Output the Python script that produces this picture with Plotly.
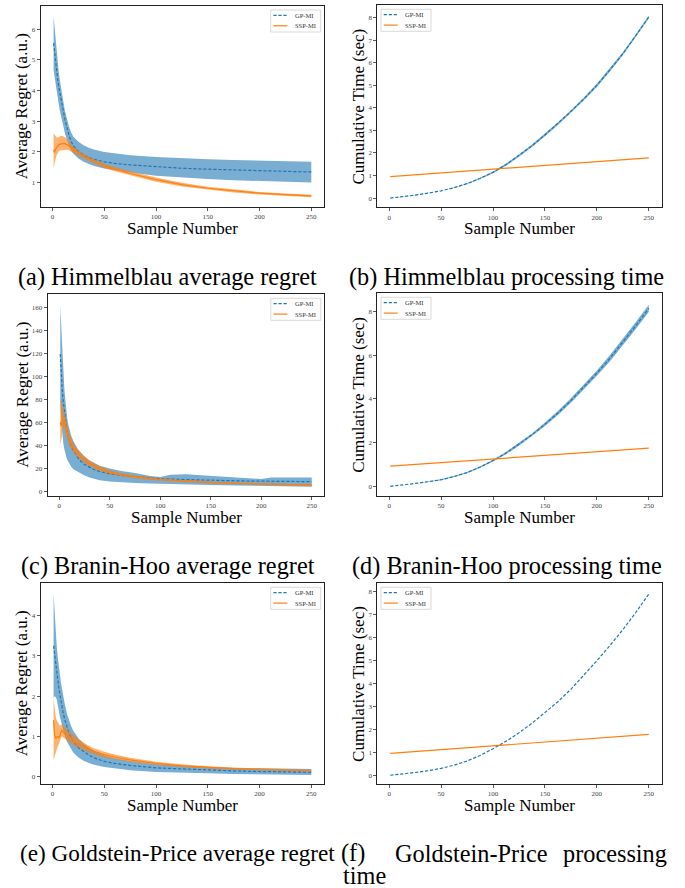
import plotly.graph_objects as go

W, H = 685, 888

# ---------------- data ----------------
SAMPLE_TICKS = [0, 50, 100, 150, 200, 250]

# (a) Himmelblau average regret
A_X = [1, 2, 3, 4, 5, 6, 7, 8, 9, 10, 12, 14, 16, 18, 20, 25, 30, 35, 40, 50, 60, 75, 100, 125, 150, 175, 200, 225, 250]
A_GP_MEAN = [5.54, 5.2, 4.9, 4.62, 4.35, 4.12, 3.91, 3.7, 3.55, 3.42, 3.05, 2.76, 2.53, 2.35, 2.2, 2.02, 1.9, 1.82, 1.76, 1.68, 1.63, 1.58, 1.52, 1.47, 1.44, 1.41, 1.39, 1.37, 1.35]
A_GP_HI = [6.41, 6.0, 5.6, 5.25, 4.9, 4.6, 4.35, 4.1, 3.9, 3.72, 3.33, 3.04, 2.81, 2.63, 2.5, 2.33, 2.22, 2.14, 2.08, 2.0, 1.95, 1.89, 1.84, 1.79, 1.76, 1.74, 1.72, 1.70, 1.68]
A_GP_LO = [4.67, 4.4, 4.15, 3.95, 3.75, 3.55, 3.35, 3.18, 3.02, 2.88, 2.6, 2.38, 2.2, 2.05, 1.95, 1.79, 1.68, 1.6, 1.54, 1.46, 1.4, 1.33, 1.23, 1.17, 1.12, 1.08, 1.05, 1.03, 1.01]
A_SSP_MEAN = [2.07, 1.98, 2.1, 2.18, 2.2, 2.24, 2.25, 2.27, 2.28, 2.28, 2.27, 2.24, 2.2, 2.14, 2.08, 1.96, 1.86, 1.77, 1.7, 1.55, 1.44, 1.3, 1.1, 0.94, 0.82, 0.73, 0.66, 0.61, 0.57]
A_SSP_HI = [2.6, 2.55, 2.5, 2.47, 2.47, 2.5, 2.5, 2.52, 2.52, 2.52, 2.48, 2.42, 2.35, 2.26, 2.18, 2.04, 1.93, 1.84, 1.77, 1.62, 1.51, 1.37, 1.17, 1.0, 0.87, 0.78, 0.7, 0.65, 0.61]
A_SSP_LO = [1.47, 1.6, 1.78, 1.9, 1.97, 2.02, 2.05, 2.06, 2.06, 2.07, 2.07, 2.07, 2.05, 2.02, 1.98, 1.88, 1.79, 1.7, 1.63, 1.48, 1.37, 1.23, 1.03, 0.88, 0.77, 0.68, 0.62, 0.57, 0.53]

# (c) Branin-Hoo average regret
C_X = [1, 2, 3, 4, 5, 6, 7, 8, 9, 10, 12, 14, 16, 18, 20, 25, 30, 35, 40, 50, 60, 75, 90, 100, 110, 125, 150, 175, 195, 200, 210, 225, 250]
C_GP_MEAN = [119.5, 100, 88, 78, 70, 62, 56, 51, 47, 44, 39, 35.5, 32.5, 29.5, 27.5, 23.5, 21, 19, 17.5, 15.5, 14.3, 13, 11.8, 11.2, 10.9, 10.4, 9.8, 9.4, 9.15, 9.1, 9.0, 8.9, 8.7]
C_GP_HI = [161, 140, 120, 102, 90, 80, 70, 63, 58, 54, 48, 44, 40.5, 37.5, 35, 30.5, 27, 24.5, 22.5, 20, 18.2, 16.3, 13.6, 12.7, 14.6, 15.2, 14.0, 12.6, 11.4, 11.0, 12.3, 12.5, 12.4]
C_GP_LO = [80, 62, 50, 42, 37, 33, 30, 27.5, 25.5, 24, 21.5, 19.5, 18.2, 17.2, 16.5, 14, 12.2, 11, 10, 8.9, 8.2, 7.5, 7.0, 6.7, 6.4, 6.1, 5.8, 5.3, 5.0, 4.9, 4.7, 4.5, 4.3]
C_SSP_MEAN = [60, 57, 62, 65, 63, 58, 54, 50.5, 47.5, 45, 41, 38, 35.5, 33.5, 31.5, 27.5, 24.5, 22, 20, 17, 15, 12.8, 11.2, 10.4, 9.8, 9.0, 8.0, 7.2, 6.7, 6.6, 6.4, 6.1, 5.7]
C_SSP_HI = [80, 79, 76, 73, 70, 65, 61, 57, 53.5, 50.5, 46, 42.5, 39.5, 37, 35, 30.5, 27, 24.3, 22, 18.8, 16.5, 14.1, 12.4, 11.5, 10.8, 9.9, 8.8, 7.9, 7.4, 7.3, 7.1, 6.8, 6.4]
C_SSP_LO = [40, 44, 50, 56, 56, 51, 47.5, 44.5, 42, 40, 36.5, 34, 31.8, 30, 28.3, 24.8, 22, 19.8, 18, 15.3, 13.5, 11.5, 10.1, 9.4, 8.8, 8.1, 7.2, 6.5, 6.0, 5.9, 5.7, 5.4, 5.0]

# (e) Goldstein-Price average regret
E_X = [1, 2, 3, 4, 5, 6, 7, 8, 9, 10, 12, 14, 16, 18, 20, 25, 30, 35, 40, 50, 60, 75, 100, 125, 150, 175, 200, 225, 250]
E_GP_MEAN = [3.25, 3.0, 2.8, 2.62, 2.42, 2.22, 2.05, 1.9, 1.75, 1.62, 1.4, 1.22, 1.08, 0.97, 0.88, 0.72, 0.62, 0.54, 0.47, 0.38, 0.33, 0.28, 0.22, 0.19, 0.165, 0.145, 0.13, 0.12, 0.11]
E_GP_HI = [4.55, 4.0, 3.6, 3.25, 2.98, 2.74, 2.55, 2.36, 2.2, 2.05, 1.78, 1.56, 1.38, 1.25, 1.14, 0.95, 0.82, 0.72, 0.64, 0.53, 0.46, 0.39, 0.31, 0.27, 0.24, 0.22, 0.21, 0.2, 0.19]
E_GP_LO = [1.95, 2.0, 1.98, 1.92, 1.8, 1.65, 1.5, 1.4, 1.28, 1.18, 1.0, 0.87, 0.76, 0.68, 0.6, 0.48, 0.4, 0.34, 0.3, 0.24, 0.2, 0.16, 0.12, 0.1, 0.085, 0.07, 0.06, 0.05, 0.045]
E_SSP_MEAN = [1.4, 1.05, 0.96, 0.98, 1.0, 0.97, 1.0, 1.1, 1.15, 1.12, 1.06, 1.03, 0.98, 0.94, 0.9, 0.82, 0.75, 0.68, 0.63, 0.55, 0.49, 0.42, 0.33, 0.27, 0.23, 0.2, 0.18, 0.165, 0.15]
E_SSP_HI = [1.95, 1.65, 1.5, 1.4, 1.35, 1.3, 1.27, 1.28, 1.3, 1.28, 1.22, 1.18, 1.12, 1.07, 1.03, 0.93, 0.85, 0.77, 0.71, 0.62, 0.55, 0.47, 0.37, 0.31, 0.26, 0.23, 0.205, 0.185, 0.17]
E_SSP_LO = [0.4, 0.5, 0.6, 0.68, 0.75, 0.8, 0.86, 0.95, 1.0, 0.98, 0.93, 0.9, 0.86, 0.82, 0.79, 0.72, 0.66, 0.6, 0.56, 0.48, 0.43, 0.37, 0.29, 0.24, 0.2, 0.175, 0.16, 0.145, 0.13]

# processing time panels (b, d, f)
T_X = [1, 12.5, 25, 37.5, 50, 62.5, 75, 87.5, 100, 112.5, 125, 137.5, 150, 162.5, 175, 187.5, 200, 212.5, 225, 237.5, 250]
B_GP_MEAN = [0.0, 0.05, 0.13, 0.22, 0.32, 0.46, 0.64, 0.87, 1.14, 1.48, 1.88, 2.32, 2.8, 3.3, 3.84, 4.4, 5.0, 5.68, 6.4, 7.2, 8.03]
B_GP_HI = [0.0, 0.05, 0.13, 0.22, 0.32, 0.47, 0.66, 0.9, 1.18, 1.53, 1.93, 2.38, 2.86, 3.36, 3.9, 4.46, 5.07, 5.75, 6.47, 7.27, 8.1]
B_GP_LO = [0.0, 0.05, 0.13, 0.22, 0.32, 0.45, 0.62, 0.84, 1.1, 1.43, 1.83, 2.26, 2.74, 3.24, 3.78, 4.34, 4.93, 5.61, 6.33, 7.13, 7.96]
B_SSP_X = [1, 50, 100, 150, 200, 250]
B_SSP_MEAN = [0.95, 1.11, 1.28, 1.45, 1.61, 1.78]

D_GP_MEAN = [0.0, 0.05, 0.13, 0.21, 0.3, 0.45, 0.63, 0.88, 1.18, 1.52, 1.92, 2.36, 2.84, 3.36, 3.93, 4.54, 5.18, 5.86, 6.6, 7.36, 8.15]
D_GP_HI = [0.0, 0.05, 0.13, 0.22, 0.32, 0.47, 0.66, 0.91, 1.22, 1.57, 1.98, 2.42, 2.92, 3.45, 4.03, 4.65, 5.3, 6.0, 6.75, 7.52, 8.32]
D_GP_LO = [0.0, 0.05, 0.13, 0.2, 0.28, 0.43, 0.6, 0.85, 1.14, 1.47, 1.86, 2.3, 2.76, 3.27, 3.83, 4.43, 5.06, 5.72, 6.45, 7.2, 7.98]
D_SSP_X = [1, 50, 100, 150, 200, 250]
D_SSP_MEAN = [0.92, 1.09, 1.25, 1.42, 1.58, 1.75]

F_GP_MEAN = [0.0, 0.05, 0.12, 0.2, 0.3, 0.44, 0.62, 0.86, 1.15, 1.48, 1.85, 2.26, 2.72, 3.2, 3.74, 4.34, 4.98, 5.64, 6.33, 7.08, 7.88]
F_SSP_X = [1, 50, 100, 150, 200, 250]
F_SSP_MEAN = [0.95, 1.12, 1.28, 1.45, 1.61, 1.78]

CAPTIONS = ["(a) Himmelblau average regret", "(b) Himmelblau processing time",
            "(c) Branin-Hoo average regret", "(d) Branin-Hoo processing time",
            "(e) Goldstein-Price average regret"]
CAPTION_F = ["(f)", "Goldstein-Price", "processing", "time"]
LEGEND_NAMES = ["GP-MI", "SSP-MI"]
REGRET_TITLE = "Average Regret (a.u.)"
TIME_TITLE = "Cumulative Time (sec)"
X_TITLE = "Sample Number"

# ---------------- styling / layout ----------------
BLUE = "#1f77b4"
ORANGE = "#ff7f0e"
BLUE_FILL = "rgba(31,119,180,0.6)"
ORANGE_FILL = "rgba(255,127,14,0.6)"
SERIF = "Liberation Serif, Times New Roman, serif"
DASH = "3.2px,1.8px"

# pixel boxes (left, right, top, bottom)
BOXES = [
    (40.7, 324.2, 6.0, 207.0),
    (377.3, 661.7, 5.3, 207.3),
    (47.7, 324.3, 294.3, 495.7),
    (377.3, 661.7, 293.3, 495.7),
    (40.7, 324.2, 583.3, 784.0),
    (377.3, 661.7, 583.3, 784.0),
]
Y_RANGES = [(0.21, 6.75), (-0.41, 8.55), (-3.5, 171.3), (-0.43, 8.84), (-0.18, 4.80), (-0.38, 8.35)]
Y_TICKS = [[1, 2, 3, 4, 5, 6], list(range(0, 9)), list(range(0, 161, 20)), [0, 2, 4, 6, 8],
           [0, 1, 2, 3, 4], list(range(0, 9))]
X_RANGE = (-11.45, 262.45)


def px(x):
    return x / W


def py(y):
    return 1 - y / H


fig = go.Figure()


def band(i, x, lo, hi, color):
    fig.add_trace(go.Scatter(x=list(x) + list(x)[::-1], y=list(hi) + list(lo)[::-1],
                             fill="toself", fillcolor=color, line=dict(width=0),
                             mode="lines", hoverinfo="skip", showlegend=False,
                             xaxis=f"x{i}", yaxis=f"y{i}"))


def line(i, x, y, color, dash=None):
    fig.add_trace(go.Scatter(x=x, y=y, mode="lines",
                             line=dict(color=color, width=1.2, dash=dash or "solid"),
                             showlegend=False, xaxis=f"x{i}", yaxis=f"y{i}"))


# (a)
band(1, A_X, A_GP_LO, A_GP_HI, BLUE_FILL)
line(1, A_X, A_GP_MEAN, BLUE, DASH)
band(1, A_X, A_SSP_LO, A_SSP_HI, ORANGE_FILL)
line(1, A_X, A_SSP_MEAN, ORANGE)
# (b)
band(2, T_X, B_GP_LO, B_GP_HI, BLUE_FILL)
line(2, T_X, B_GP_MEAN, BLUE, DASH)
line(2, B_SSP_X, B_SSP_MEAN, ORANGE)
# (c)
band(3, C_X, C_GP_LO, C_GP_HI, BLUE_FILL)
line(3, C_X, C_GP_MEAN, BLUE, DASH)
band(3, C_X, C_SSP_LO, C_SSP_HI, ORANGE_FILL)
line(3, C_X, C_SSP_MEAN, ORANGE)
# (d)
band(4, T_X, D_GP_LO, D_GP_HI, BLUE_FILL)
line(4, T_X, D_GP_MEAN, BLUE, DASH)
line(4, D_SSP_X, D_SSP_MEAN, ORANGE)
# (e)
band(5, E_X, E_GP_LO, E_GP_HI, BLUE_FILL)
line(5, E_X, E_GP_MEAN, BLUE, DASH)
band(5, E_X, E_SSP_LO, E_SSP_HI, ORANGE_FILL)
line(5, E_X, E_SSP_MEAN, ORANGE)
# (f)
line(6, T_X, F_GP_MEAN, BLUE, DASH)
line(6, F_SSP_X, F_SSP_MEAN, ORANGE)

layout = dict(width=W, height=H, margin=dict(l=0, r=0, t=0, b=0), autosize=False,
              paper_bgcolor="white", plot_bgcolor="white", showlegend=False)
tickfont = dict(family=SERIF, size=7, color="#444")
annotations = []
shapes = []
for k, (l, r, t, b) in enumerate(BOXES):
    i = k + 1
    sx = "" if i == 1 else str(i)
    layout[f"xaxis{sx}"] = dict(domain=[px(l), px(r)], range=list(X_RANGE), tickvals=SAMPLE_TICKS,
                                ticks="outside", ticklen=3, tickwidth=0.8, tickcolor="#333",
                                showline=True, mirror=True, linecolor="#222", linewidth=1,
                                showgrid=False, zeroline=False, tickfont=tickfont,
                                anchor=f"y{i}", fixedrange=True)
    layout[f"yaxis{sx}"] = dict(domain=[py(b), py(t)], range=list(Y_RANGES[k]), tickvals=Y_TICKS[k],
                                ticks="outside", ticklen=3, tickwidth=0.8, tickcolor="#333",
                                showline=True, mirror=True, linecolor="#222", linewidth=1,
                                showgrid=False, zeroline=False, tickfont=tickfont,
                                anchor=f"x{i}", fixedrange=True)
    # axis titles
    annotations.append(dict(text=X_TITLE, x=px((l + r) / 2), y=py(b + 21.5), xref="paper", yref="paper",
                            xanchor="center", yanchor="middle", showarrow=False,
                            font=dict(family=SERIF, size=17, color="black")))
    ytx = 21.7 if k % 2 == 0 else 358.3
    annotations.append(dict(text=REGRET_TITLE if k % 2 == 0 else TIME_TITLE, x=px(ytx), y=py((t + b) / 2),
                            xref="paper", yref="paper", xanchor="center", yanchor="middle",
                            textangle=-90, showarrow=False,
                            font=dict(family=SERIF, size=17, color="black")))
    # legend
    if k % 2 == 0:
        bx0, bx1 = r - 53.5, r - 3.5
    else:
        bx0, bx1 = l + 3.7, l + 53.7
    shapes.append(dict(type="rect", xref="paper", yref="paper", x0=px(bx0), x1=px(bx1),
                       y0=py(t + 26), y1=py(t + 4), line=dict(color="#d0d0d0", width=0.8),
                       fillcolor="rgba(255,255,255,0.8)", layer="above"))
    for j, (nm, col, dsh) in enumerate(zip(LEGEND_NAMES, [BLUE, ORANGE], [DASH, "solid"])):
        yy = t + 9.3 + j * 10.5
        shapes.append(dict(type="line", xref="paper", yref="paper", x0=px(bx0 + 2.7), x1=px(bx0 + 16.7),
                           y0=py(yy), y1=py(yy), line=dict(color=col, width=1.2, dash=dsh), layer="above"))
        annotations.append(dict(text=nm, x=px(bx0 + 22), y=py(yy), xref="paper", yref="paper",
                                xanchor="left", yanchor="middle", showarrow=False,
                                font=dict(family=SERIF, size=6.5, color="#333")))

# captions
cap_font = dict(family=SERIF, size=24.3, color="black")
cap_pos = [(167.5, 277), (506.6, 277), (167.5, 566), (506.6, 566)]
for txt, (cx, cy) in zip(CAPTIONS[:4], cap_pos):
    annotations.append(dict(text=txt, x=px(cx), y=py(cy), xref="paper", yref="paper",
                            xanchor="center", yanchor="middle", showarrow=False, font=cap_font))
annotations.append(dict(text=CAPTIONS[4], x=px(17.5), y=py(853), xref="paper", yref="paper",
                        xanchor="left", yanchor="middle", showarrow=False,
                        font=dict(family=SERIF, size=23.2, color="black")))
annotations.append(dict(text=CAPTION_F[0], x=px(339), y=py(853), xref="paper", yref="paper",
                        xanchor="left", yanchor="middle", showarrow=False, font=cap_font))
annotations.append(dict(text=CAPTION_F[1], x=px(393), y=py(853), xref="paper", yref="paper",
                        xanchor="left", yanchor="middle", showarrow=False, font=cap_font))
annotations.append(dict(text=CAPTION_F[2], x=px(669), y=py(853), xref="paper", yref="paper",
                        xanchor="right", yanchor="middle", showarrow=False, font=cap_font))
annotations.append(dict(text=CAPTION_F[3], x=px(341), y=py(875), xref="paper", yref="paper",
                        xanchor="left", yanchor="middle", showarrow=False, font=cap_font))

layout["annotations"] = annotations
layout["shapes"] = shapes
fig.update_layout(**layout)
fig.write_html("out.html", config={"displayModeBar": False, "staticPlot": True},
               post_script="document.body.style.margin='0';document.body.style.padding='0';"
                           "document.body.style.overflow='hidden';")
